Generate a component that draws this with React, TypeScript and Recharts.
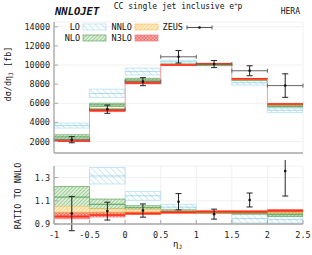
import React from "react";
import {
  ComposedChart,
  XAxis,
  YAxis,
  CartesianGrid,
  ReferenceArea,
  ReferenceLine,
  Line,
  Scatter,
  ErrorBar,
} from "recharts";

// eta_J bin edges
const edges = [-1, -0.5, 0, 0.5, 1, 1.5, 2, 2.5];
const topTicks = [2000, 4000, 6000, 8000, 10000, 12000, 14000];
const ratioTicks = [0.9, 1.1, 1.3];

// upper panel, [low, central, high] per bin, in fb
const loTop = [[3410, 3670, 3930], [6600, 7030, 7470], [8960, 9310, 9680], [10170, 10340, 10500], [9950, 10050, 10150], [7900, 8150, 8400], [5030, 5270, 5500]];
const nloTop = [[2260, 2480, 2710], [5660, 5830, 6000], [8260, 8430, 8610], [9950, 10030, 10120], [9930, 10010, 10090], [8380, 8470, 8560], [5600, 5700, 5800]];
const nnloTop = [[2090, 2110, 2200], [5290, 5330, 5480], [8160, 8180, 8360], [9950, 10000, 10100], [10010, 10060, 10170], [8460, 8500, 8600], [5830, 5850, 5960]];
const n3loTop = [[2000, 2060, 2100], [5130, 5250, 5320], [8030, 8120, 8180], [9940, 10000, 10050], [10070, 10120, 10190], [8500, 8560, 8600], [5870, 5930, 5980]];
const zeusTop = [2190, 5380, 8260, 10860, 10100, 9400, 7850];
const zeusTopErr = [320, 430, 420, 650, 370, 520, 1230];

// lower panel, ratio to NNLO
const loRatio = [[1.6, 1.75, 1.9], [1.245, 1.314, 1.387], [1.104, 1.143, 1.181], [1.022, 1.045, 1.07], [0.99, 1.0, 1.01], [0.909, 0.947, 0.985], [0.909, 0.937, 0.965]];
const nloRatio = [[1.039, 1.132, 1.223], [1.03, 1.07, 1.115], [1.024, 1.04, 1.058], [1.0, 1.01, 1.022], [0.99, 0.998, 1.005], [0.985, 0.993, 1.002], [0.965, 0.98, 0.994]];
const nnloRatio = [[0.99, 1.0, 1.05], [0.996, 1.0, 1.03], [1.0, 1.0, 1.024], [0.995, 1.0, 1.01], [0.995, 1.0, 1.01], [0.995, 1.0, 1.012], [0.998, 1.0, 1.015]];
const n3loRatio = [[0.945, 0.965, 0.996], [0.96, 0.978, 1.0], [0.982, 0.99, 1.002], [0.994, 1.0, 1.005], [1.0, 1.007, 1.012], [1.0, 1.007, 1.012], [1.005, 1.015, 1.022]];
const zeusRatio = [0.99, 1.011, 1.016, 1.092, 0.985, 1.107, 1.356];
const zeusRatioErr = [0.148, 0.077, 0.057, 0.07, 0.043, 0.06, 0.215];

const font = "DejaVu Sans Mono";
const frame = { stroke: "#a8a8a8", strokeWidth: 1.3 };
const tickSt = { stroke: "#a8a8a8", strokeWidth: 1 };

const styles: Record<string, { fill: string; edge: string; mid: string; w: number }> = {
  LO: { fill: "LO", edge: "#acdcef", mid: "#94cfe8", w: 0.8 },
  NLO: { fill: "NLO", edge: "#5ea55e", mid: "#3e8e3e", w: 0.8 },
  NNLO: { fill: "NNLO", edge: "#f5c56a", mid: "#f0aa30", w: 0.8 },
  N3LO: { fill: "N3LO", edge: "#f27a7a", mid: "#ff3218", w: 1.6 },
};

const Patterns = ({ p }: { p: string }) => (
  <defs>
    <pattern id={p + "LO"} width={4.5} height={4.5} patternUnits="userSpaceOnUse" patternTransform="rotate(-45)">
      <line x1={0} y1={0} x2={0} y2={4.5} stroke="#9dd5ec" strokeWidth={1} />
    </pattern>
    <pattern id={p + "NLO"} width={2.6} height={2.6} patternUnits="userSpaceOnUse" patternTransform="rotate(45)">
      <rect width={2.6} height={2.6} fill="#dcefd6" />
      <line x1={0} y1={0} x2={0} y2={2.6} stroke="#5fa65f" strokeWidth={0.9} />
    </pattern>
    <pattern id={p + "NNLO"} width={2.6} height={2.6} patternUnits="userSpaceOnUse" patternTransform="rotate(45)">
      <rect width={2.6} height={2.6} fill="#fdebc4" />
      <line x1={0} y1={0} x2={0} y2={2.6} stroke="#f6bb48" strokeWidth={0.9} />
    </pattern>
    <pattern id={p + "N3LO"} width={2.4} height={2.4} patternUnits="userSpaceOnUse" patternTransform="rotate(45)">
      <rect width={2.4} height={2.4} fill="#f9b4b4" />
      <line x1={0} y1={0} x2={0} y2={2.4} stroke="#ee3b3b" strokeWidth={0.8} />
      <line x1={0} y1={0} x2={2.4} y2={0} stroke="#ee3b3b" strokeWidth={0.8} />
    </pattern>
  </defs>
);

const boxes = (rows: number[][]) =>
  rows.map((r, i) => ({ x1: edges[i], x2: edges[i + 1], lo: r[0], mid: r[1], hi: r[2] }));

const stepRows = (rows: number[][]) => [
  ...rows.map((r, i) => ({ x: edges[i], y: r[1] })),
  { x: edges[edges.length - 1], y: rows[rows.length - 1][1] },
];

const zeusRows = (vals: number[], errs: number[]) =>
  vals.map((v, i) => ({ x: (edges[i] + edges[i + 1]) / 2, y: v, err: errs[i], xerr: (edges[i + 1] - edges[i]) / 2 }));

// hatched box + central line for each bin
const band = (rows: number[][], name: string, p: string) => {
  const st = styles[name];
  return boxes(rows).flatMap((b, i) => [
    <ReferenceArea
      key={name + "a" + i}
      x1={b.x1}
      x2={b.x2}
      y1={b.lo}
      y2={b.hi}
      fill={`url(#${p}${st.fill})`}
      fillOpacity={1}
      stroke={st.edge}
      strokeWidth={0.7}
      ifOverflow="hidden"
    />,
    <ReferenceLine
      key={name + "l" + i}
      segment={[{ x: b.x1, y: b.mid }, { x: b.x2, y: b.mid }]}
      stroke={st.mid}
      strokeWidth={st.w}
      ifOverflow="hidden"
    />,
  ]);
};

const centralLine = (rows: number[][], name: string) =>
  boxes(rows).map((b, i) => (
    <ReferenceLine
      key={name + "c" + i}
      segment={[{ x: b.x1, y: b.mid }, { x: b.x2, y: b.mid }]}
      stroke={styles[name].mid}
      strokeWidth={styles[name].w}
      ifOverflow="hidden"
    />
  ));

const dot = (props: any) => <circle cx={props.cx} cy={props.cy} r={1.3} fill="#111" />;

function TopPanel() {
  return (
    <ComposedChart width={312} height={160} margin={{ top: 22, right: 9, bottom: 0, left: 0 }}>
      <Patterns p="t" />
      <CartesianGrid stroke="#ececec" strokeWidth={0.8} />
      <XAxis dataKey="x" type="number" domain={[-1, 2.5]} ticks={edges} allowDataOverflow height={7} tick={false} tickSize={-4} axisLine={frame} tickLine={tickSt} />
      <XAxis xAxisId="t" orientation="top" type="number" domain={[-1, 2.5]} ticks={edges} allowDataOverflow height={0} tick={false} tickSize={-4} axisLine={frame} tickLine={tickSt} />
      <YAxis type="number" domain={[800, 14500]} ticks={topTicks} allowDataOverflow width={54} tickSize={-4} tickMargin={8} tick={{ fontFamily: font, fontSize: 8.5, fill: "#222" }} axisLine={frame} tickLine={tickSt} />
      <YAxis yAxisId="r" orientation="right" type="number" domain={[800, 14500]} ticks={topTicks} allowDataOverflow width={0} tick={false} tickSize={-4} axisLine={frame} tickLine={tickSt} />
      {band(loTop, "LO", "t")}
      {band(nloTop, "NLO", "t")}
      {band(nnloTop, "NNLO", "t")}
      {band(n3loTop, "N3LO", "t")}
      <Line data={stepRows(n3loTop)} dataKey="y" type="stepAfter" stroke="#f5a0a0" strokeWidth={1} dot={false} isAnimationActive={false} />
      {centralLine(n3loTop, "N3LO")}
      <Scatter data={zeusRows(zeusTop, zeusTopErr)} dataKey="y" shape={dot} isAnimationActive={false}>
        <ErrorBar dataKey="xerr" direction="x" width={2} stroke="#666" strokeWidth={1} isAnimationActive={false} />
        <ErrorBar dataKey="err" direction="y" width={3} stroke="#222" strokeWidth={1} isAnimationActive={false} />
      </Scatter>
    </ComposedChart>
  );
}

function RatioPanel() {
  return (
    <ComposedChart width={312} height={95} margin={{ top: 6, right: 9, bottom: 0, left: 0 }}>
      <Patterns p="r" />
      <CartesianGrid stroke="#ececec" strokeWidth={0.8} />
      <XAxis dataKey="x" type="number" domain={[-1, 2.5]} ticks={edges} allowDataOverflow height={31} tickSize={-4} tickMargin={11.5} tick={{ fontFamily: font, fontSize: 8.5, fill: "#222" }} axisLine={frame} tickLine={tickSt} />
      <XAxis xAxisId="t" orientation="top" type="number" domain={[-1, 2.5]} ticks={edges} allowDataOverflow height={0} tick={false} tickSize={-4} axisLine={frame} tickLine={tickSt} />
      <YAxis type="number" domain={[0.9, 1.4]} ticks={ratioTicks} allowDataOverflow width={54} tickSize={-4} tickMargin={8} tickFormatter={(v: number) => v.toFixed(1)} tick={{ fontFamily: font, fontSize: 8.5, fill: "#222" }} axisLine={frame} tickLine={tickSt} />
      <YAxis yAxisId="r" orientation="right" type="number" domain={[0.9, 1.4]} ticks={ratioTicks} allowDataOverflow width={0} tick={false} tickSize={-4} axisLine={frame} tickLine={tickSt} />
      {band(loRatio, "LO", "r")}
      {band(nloRatio, "NLO", "r")}
      {band(nnloRatio, "NNLO", "r")}
      {band(n3loRatio, "N3LO", "r")}
      <Line data={stepRows(n3loRatio)} dataKey="y" type="stepAfter" stroke="#f5a0a0" strokeWidth={1} dot={false} isAnimationActive={false} />
      {centralLine(n3loRatio, "N3LO")}
      <Scatter data={zeusRows(zeusRatio, zeusRatioErr)} dataKey="y" shape={dot} isAnimationActive={false}>
        <ErrorBar dataKey="err" direction="y" width={3} stroke="#222" strokeWidth={1} isAnimationActive={false} />
      </Scatter>
    </ComposedChart>
  );
}

const txt = { fontFamily: font, fill: "#111" };

function Overlay() {
  return (
    <svg width={312} height={255} style={{ position: "absolute", left: 0, top: 0, pointerEvents: "none" }}>
      <Patterns p="g" />
      <text x={55} y={15} {...txt} fontSize={10.5} fontWeight="bold" fontStyle="italic">NNLOJET</text>
      <text x={178} y={9} {...txt} fontSize={8} textAnchor="middle">
        CC single jet inclusive e<tspan fontSize={5.5} dy={-3}>+</tspan><tspan dy={3}>p</tspan>
      </text>
      <text x={300} y={14} {...txt} fontSize={8} textAnchor="end">HERA</text>
      <text transform="translate(10.5,74) rotate(-90)" {...txt} fontSize={8.5} textAnchor="middle">
        dσ/dη<tspan fontSize={6} dy={2}>J</tspan><tspan dy={-2}> [fb]</tspan>
      </text>
      <text transform="translate(21,196) rotate(-90)" {...txt} fontSize={8.5} textAnchor="middle">RATIO TO NNLO</text>
      <text x={173} y={247} {...txt} fontSize={9}>
        η<tspan fontSize={6} dy={2}>J</tspan>
      </text>
      {/* legend */}
      <g fontSize={8.5} {...txt}>
        <text x={80} y={30} textAnchor="end">LO</text>
        <rect x={83} y={24} width={23} height={6} fill="url(#gLO)" stroke={styles.LO.edge} strokeWidth={0.7} />
        <text x={132} y={30} textAnchor="end">NNLO</text>
        <rect x={135} y={24} width={23} height={6} fill="url(#gNNLO)" stroke={styles.NNLO.edge} strokeWidth={0.7} />
        <text x={183} y={30} textAnchor="end">ZEUS</text>
        <line x1={187} y1={27.5} x2={212} y2={27.5} stroke="#555" strokeWidth={1} />
        <line x1={187} y1={25.5} x2={187} y2={29.5} stroke="#555" strokeWidth={1} />
        <line x1={212} y1={25.5} x2={212} y2={29.5} stroke="#555" strokeWidth={1} />
        <circle cx={199.5} cy={27.5} r={1.3} fill="#111" />
        <text x={80} y={41} textAnchor="end">NLO</text>
        <rect x={83} y={35} width={23} height={6} fill="url(#gNLO)" stroke={styles.NLO.edge} strokeWidth={0.7} />
        <text x={132} y={41} textAnchor="end">N3LO</text>
        <rect x={135} y={35} width={23} height={6} fill="url(#gN3LO)" stroke={styles.N3LO.edge} strokeWidth={0.7} />
      </g>
    </svg>
  );
}

export default function App() {
  return (
    <div style={{ position: "absolute", left: 0, top: 0, width: 312, height: 255, background: "#fff" }}>
      <div style={{ position: "absolute", left: 0, top: 0 }}>
        <TopPanel />
      </div>
      <div style={{ position: "absolute", left: 0, top: 160 }}>
        <RatioPanel />
      </div>
      <Overlay />
    </div>
  );
}
